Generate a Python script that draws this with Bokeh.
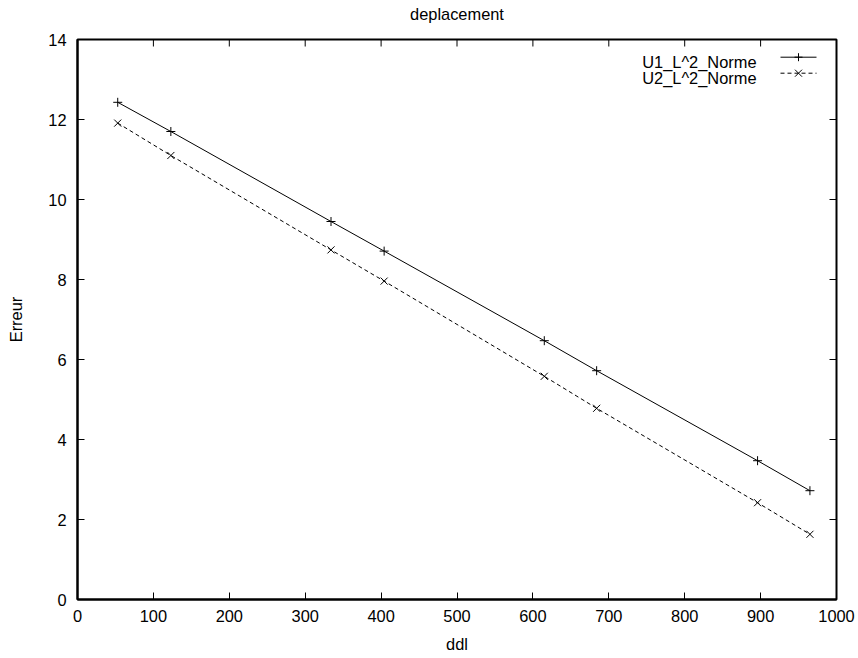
from bokeh.plotting import figure
from bokeh.models import Range1d, FixedTicker, Label, Arrow, LinearAxis
from bokeh.embed import file_html
from bokeh.resources import INLINE

# ---- data ----
title_text = "deplacement"
x_label = "ddl"
y_label = "Erreur"
series_names = ["U1_L^2_Norme", "U2_L^2_Norme"]
ddl = [53, 123, 334, 404, 615, 684, 896, 965]
u1 = [12.43, 11.70, 9.45, 8.71, 6.47, 5.72, 3.47, 2.72]
u2 = [11.91, 11.10, 8.74, 7.96, 5.58, 4.78, 2.42, 1.63]
x_ticks = [0, 100, 200, 300, 400, 500, 600, 700, 800, 900, 1000]
y_ticks = [0, 2, 4, 6, 8, 10, 12, 14]
X_MIN, X_MAX = 0, 1000
Y_MIN, Y_MAX = 0, 14

FONT = "Liberation Sans"
FS = "16.4px"

W, H = 858, 658
B_LEFT, B_RIGHT, B_TOP, B_BOTTOM = 77, 22, 39, 59
FRAME_W = W - B_LEFT - B_RIGHT
FRAME_H = H - B_TOP - B_BOTTOM
TICK = 7

p = figure(width=W, height=H, output_backend="svg", toolbar_location=None,
           x_range=Range1d(X_MIN, X_MAX), y_range=Range1d(Y_MIN, Y_MAX),
           min_border_left=B_LEFT, min_border_right=B_RIGHT,
           min_border_top=B_TOP, min_border_bottom=B_BOTTOM,
           x_axis_label=x_label, y_axis_label=y_label)
p.grid.visible = False
p.outline_line_color = "black"
p.outline_line_width = 2
p.background_fill_color = "white"
p.border_fill_color = "white"


def style_axis(ax, ticks):
    ax.ticker = FixedTicker(ticks=ticks)
    ax.major_tick_in = TICK
    ax.major_tick_out = 0
    ax.minor_tick_in = 0
    ax.minor_tick_out = 0
    ax.major_tick_line_color = "black"
    ax.major_tick_line_width = 1
    ax.axis_line_color = "black"
    ax.axis_line_width = 2
    ax.major_label_text_font = FONT
    ax.major_label_text_font_size = FS
    ax.major_label_text_color = "black"
    ax.axis_label_text_font = FONT
    ax.axis_label_text_font_size = FS
    ax.axis_label_text_font_style = "normal"
    ax.axis_label_text_color = "black"


xa = p.xaxis[0]
style_axis(xa, x_ticks)
xa.major_label_standoff = 10
xa.axis_label_standoff = 10

ya = p.yaxis[0]
style_axis(ya, y_ticks)
ya.major_label_standoff = 11
ya.axis_label_standoff = 20

# title drawn as the label of a tick-less axis above the frame
title_ax = LinearAxis(axis_label=title_text)
style_axis(title_ax, [])
title_ax.axis_line_color = None
title_ax.major_label_standoff = 0
title_ax.axis_label_standoff = 17
p.add_layout(title_ax, "above")

# mirror ticks on the top and right borders (gnuplot style)
dy = TICK * (Y_MAX - Y_MIN) / FRAME_H
dx = TICK * (X_MAX - X_MIN) / FRAME_W
p.segment(x0=x_ticks, y0=[Y_MAX] * len(x_ticks), x1=x_ticks, y1=[Y_MAX - dy] * len(x_ticks),
          line_color="black", line_width=1)
p.segment(x0=[X_MAX] * len(y_ticks), y0=y_ticks, x1=[X_MAX - dx] * len(y_ticks), y1=y_ticks,
          line_color="black", line_width=1)

# ---- series ----
p.line(ddl, u1, line_color="black", line_width=1)
p.scatter(ddl, u1, marker="cross", size=9, line_color="black", line_width=1)
p.line(ddl, u2, line_color="black", line_width=1, line_dash="4 3")
p.scatter(ddl, u2, marker="x", size=10, line_color="black", line_width=1)

# ---- legend (gnuplot style: text then sample) ----
rows = [(537.7, 542.3, "solid", "plus"), (521.7, 526.3, "4 3", "x")]
for name, (ty, ly, dash, mk) in zip(series_names, rows):
    p.add_layout(Label(x=679, y=ty, x_units="screen", y_units="screen", text=name,
                       text_align="right", text_baseline="alphabetic",
                       text_font=FONT, text_font_size=FS, text_color="black"))
    p.add_layout(Arrow(end=None, x_start=703, y_start=ly, x_end=739, y_end=ly,
                       start_units="screen", end_units="screen",
                       line_color="black", line_width=1, line_dash=dash))
    if mk == "plus":
        segs = [(717, ly, 725, ly), (721, ly - 4, 721, ly + 4)]
    else:
        segs = [(717.5, ly - 3.5, 724.5, ly + 3.5), (717.5, ly + 3.5, 724.5, ly - 3.5)]
    for (x0, y0, x1, y1) in segs:
        p.add_layout(Arrow(end=None, x_start=x0, y_start=y0, x_end=x1, y_end=y1,
                           start_units="screen", end_units="screen",
                           line_color="black", line_width=1))

open("out.html", "w").write(file_html(p, INLINE))
